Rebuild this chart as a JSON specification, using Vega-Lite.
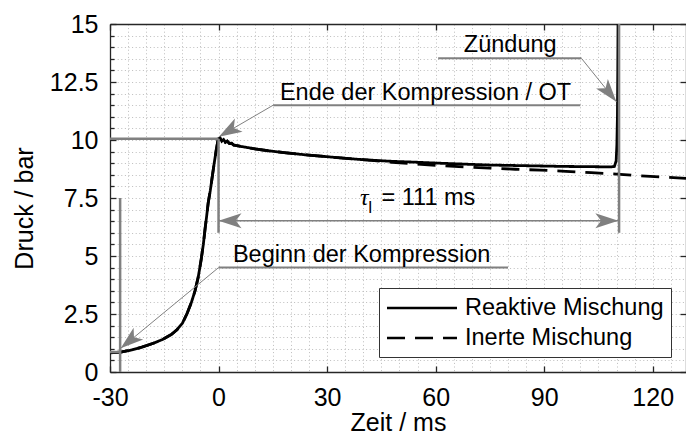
{
  "$schema": "https://vega.github.io/schema/vega-lite/v6.json",
  "width": 576,
  "height": 348,
  "autosize": {"type": "none"},
  "padding": {"left": 110, "top": 24, "right": 0, "bottom": 65},
  "background": "white",
  "config": {
    "font": "Liberation Sans",
    "view": {"stroke": null},
    "axis": {
      "labelFont": "Liberation Sans",
      "labelFontSize": 25,
      "labelColor": "black",
      "titleFont": "Liberation Sans",
      "titleFontSize": 25,
      "titleFontWeight": "normal",
      "titleColor": "black",
      "domainColor": "#262626",
      "domainWidth": 1.3,
      "tickColor": "#262626",
      "tickWidth": 1.3,
      "labelOverlap": false,
      "labelFlush": false
    }
  },
  "datasets": {
    "curves": [
      {"t": -30, "p": 0.83, "series": "Reaktive Mischung"},
      {"t": -27, "p": 0.86, "series": "Reaktive Mischung"},
      {"t": -24, "p": 0.95, "series": "Reaktive Mischung"},
      {"t": -21, "p": 1.08, "series": "Reaktive Mischung"},
      {"t": -18, "p": 1.24, "series": "Reaktive Mischung"},
      {"t": -15.5, "p": 1.4, "series": "Reaktive Mischung"},
      {"t": -13, "p": 1.62, "series": "Reaktive Mischung"},
      {"t": -11.5, "p": 1.82, "series": "Reaktive Mischung"},
      {"t": -10, "p": 2.1, "series": "Reaktive Mischung"},
      {"t": -8.7, "p": 2.52, "series": "Reaktive Mischung"},
      {"t": -7.5, "p": 3.0, "series": "Reaktive Mischung"},
      {"t": -6.5, "p": 3.5, "series": "Reaktive Mischung"},
      {"t": -5.6, "p": 4.1, "series": "Reaktive Mischung"},
      {"t": -4.8, "p": 4.85, "series": "Reaktive Mischung"},
      {"t": -4.2, "p": 5.5, "series": "Reaktive Mischung"},
      {"t": -3.7, "p": 6.2, "series": "Reaktive Mischung"},
      {"t": -3.3, "p": 6.7, "series": "Reaktive Mischung"},
      {"t": -2.85, "p": 7.3, "series": "Reaktive Mischung"},
      {"t": -2.3, "p": 7.8, "series": "Reaktive Mischung"},
      {"t": -1.8, "p": 8.35, "series": "Reaktive Mischung"},
      {"t": -1.2, "p": 9.0, "series": "Reaktive Mischung"},
      {"t": -0.6, "p": 9.6, "series": "Reaktive Mischung"},
      {"t": -0.2, "p": 9.95, "series": "Reaktive Mischung"},
      {"t": 0, "p": 10.05, "series": "Reaktive Mischung"},
      {"t": 0.4, "p": 10.1, "series": "Reaktive Mischung"},
      {"t": 0.9, "p": 9.95, "series": "Reaktive Mischung"},
      {"t": 1.4, "p": 10.02, "series": "Reaktive Mischung"},
      {"t": 1.9, "p": 9.9, "series": "Reaktive Mischung"},
      {"t": 2.4, "p": 9.95, "series": "Reaktive Mischung"},
      {"t": 3.0, "p": 9.85, "series": "Reaktive Mischung"},
      {"t": 3.6, "p": 9.86, "series": "Reaktive Mischung"},
      {"t": 4.2, "p": 9.78, "series": "Reaktive Mischung"},
      {"t": 5, "p": 9.76, "series": "Reaktive Mischung"},
      {"t": 7, "p": 9.7, "series": "Reaktive Mischung"},
      {"t": 10, "p": 9.62, "series": "Reaktive Mischung"},
      {"t": 14, "p": 9.53, "series": "Reaktive Mischung"},
      {"t": 18, "p": 9.46, "series": "Reaktive Mischung"},
      {"t": 24, "p": 9.36, "series": "Reaktive Mischung"},
      {"t": 30, "p": 9.28, "series": "Reaktive Mischung"},
      {"t": 36, "p": 9.2, "series": "Reaktive Mischung"},
      {"t": 40, "p": 9.15, "series": "Reaktive Mischung"},
      {"t": 48, "p": 9.08, "series": "Reaktive Mischung"},
      {"t": 55, "p": 9.04, "series": "Reaktive Mischung"},
      {"t": 61, "p": 9.0, "series": "Reaktive Mischung"},
      {"t": 68, "p": 8.96, "series": "Reaktive Mischung"},
      {"t": 75, "p": 8.92, "series": "Reaktive Mischung"},
      {"t": 82, "p": 8.9, "series": "Reaktive Mischung"},
      {"t": 89, "p": 8.88, "series": "Reaktive Mischung"},
      {"t": 96, "p": 8.86, "series": "Reaktive Mischung"},
      {"t": 103, "p": 8.85, "series": "Reaktive Mischung"},
      {"t": 108.3, "p": 8.84, "series": "Reaktive Mischung"},
      {"t": 109.4, "p": 8.86, "series": "Reaktive Mischung"},
      {"t": 109.9, "p": 9.1, "series": "Reaktive Mischung"},
      {"t": 110.1, "p": 9.8, "series": "Reaktive Mischung"},
      {"t": 110.25, "p": 11.0, "series": "Reaktive Mischung"},
      {"t": 110.35, "p": 13.0, "series": "Reaktive Mischung"},
      {"t": 110.45, "p": 16.0, "series": "Reaktive Mischung"},
      {"t": -30, "p": 0.83, "series": "Inerte Mischung"},
      {"t": -27, "p": 0.86, "series": "Inerte Mischung"},
      {"t": -24, "p": 0.95, "series": "Inerte Mischung"},
      {"t": -21, "p": 1.08, "series": "Inerte Mischung"},
      {"t": -18, "p": 1.24, "series": "Inerte Mischung"},
      {"t": -15.5, "p": 1.4, "series": "Inerte Mischung"},
      {"t": -13, "p": 1.62, "series": "Inerte Mischung"},
      {"t": -11.5, "p": 1.82, "series": "Inerte Mischung"},
      {"t": -10, "p": 2.1, "series": "Inerte Mischung"},
      {"t": -8.7, "p": 2.52, "series": "Inerte Mischung"},
      {"t": -7.5, "p": 3.0, "series": "Inerte Mischung"},
      {"t": -6.5, "p": 3.5, "series": "Inerte Mischung"},
      {"t": -5.6, "p": 4.1, "series": "Inerte Mischung"},
      {"t": -4.8, "p": 4.85, "series": "Inerte Mischung"},
      {"t": -4.2, "p": 5.5, "series": "Inerte Mischung"},
      {"t": -3.7, "p": 6.2, "series": "Inerte Mischung"},
      {"t": -3.3, "p": 6.7, "series": "Inerte Mischung"},
      {"t": -2.85, "p": 7.3, "series": "Inerte Mischung"},
      {"t": -2.3, "p": 7.8, "series": "Inerte Mischung"},
      {"t": -1.8, "p": 8.35, "series": "Inerte Mischung"},
      {"t": -1.2, "p": 9.0, "series": "Inerte Mischung"},
      {"t": -0.6, "p": 9.6, "series": "Inerte Mischung"},
      {"t": -0.2, "p": 9.95, "series": "Inerte Mischung"},
      {"t": 0, "p": 10.05, "series": "Inerte Mischung"},
      {"t": 0.4, "p": 10.1, "series": "Inerte Mischung"},
      {"t": 0.9, "p": 9.95, "series": "Inerte Mischung"},
      {"t": 1.4, "p": 10.02, "series": "Inerte Mischung"},
      {"t": 1.9, "p": 9.9, "series": "Inerte Mischung"},
      {"t": 2.4, "p": 9.95, "series": "Inerte Mischung"},
      {"t": 3.0, "p": 9.85, "series": "Inerte Mischung"},
      {"t": 3.6, "p": 9.86, "series": "Inerte Mischung"},
      {"t": 4.2, "p": 9.78, "series": "Inerte Mischung"},
      {"t": 5, "p": 9.76, "series": "Inerte Mischung"},
      {"t": 7, "p": 9.7, "series": "Inerte Mischung"},
      {"t": 10, "p": 9.62, "series": "Inerte Mischung"},
      {"t": 14, "p": 9.53, "series": "Inerte Mischung"},
      {"t": 18, "p": 9.46, "series": "Inerte Mischung"},
      {"t": 24, "p": 9.36, "series": "Inerte Mischung"},
      {"t": 30, "p": 9.28, "series": "Inerte Mischung"},
      {"t": 36, "p": 9.2, "series": "Inerte Mischung"},
      {"t": 40, "p": 9.15, "series": "Inerte Mischung"},
      {"t": 48, "p": 9.04, "series": "Inerte Mischung"},
      {"t": 55, "p": 8.96, "series": "Inerte Mischung"},
      {"t": 61, "p": 8.9, "series": "Inerte Mischung"},
      {"t": 68, "p": 8.84, "series": "Inerte Mischung"},
      {"t": 75, "p": 8.79, "series": "Inerte Mischung"},
      {"t": 82, "p": 8.74, "series": "Inerte Mischung"},
      {"t": 89, "p": 8.7, "series": "Inerte Mischung"},
      {"t": 96, "p": 8.65, "series": "Inerte Mischung"},
      {"t": 103, "p": 8.59, "series": "Inerte Mischung"},
      {"t": 110, "p": 8.53, "series": "Inerte Mischung"},
      {"t": 116, "p": 8.46, "series": "Inerte Mischung"},
      {"t": 122, "p": 8.41, "series": "Inerte Mischung"},
      {"t": 129.2, "p": 8.35, "series": "Inerte Mischung"}
    ],
    "rules": [
      {"t": -30, "p": 10.05, "t2": 0, "p2": 10.05, "kind": "marker"},
      {"t": 0, "p": 10.05, "t2": 0, "p2": 6.0, "kind": "marker"},
      {"t": -27.2, "p": 0, "t2": -27.2, "p2": 7.5, "kind": "marker"},
      {"t": -30, "p": 0.86, "t2": -27.2, "p2": 0.86, "kind": "marker"},
      {"t": 110.7, "p": 15, "t2": 110.7, "p2": 6.0, "kind": "marker"},
      {"t": 15.1, "p": 11.5, "t2": 100, "p2": 11.5, "kind": "underline"},
      {"t": 60.7, "p": 13.52, "t2": 100.3, "p2": 13.52, "kind": "underline"},
      {"t": 0, "p": 4.5, "t2": 80, "p2": 4.5, "kind": "underline"},
      {"t": 0, "p": 6.52, "t2": 110.5, "p2": 6.52, "kind": "span"},
      {"t": 15.1, "p": 11.5, "t2": 0.1, "p2": 10.14, "kind": "leader"},
      {"t": 100.3, "p": 13.52, "t2": 109.96, "p2": 11.65, "kind": "leader"},
      {"t": 0, "p": 4.5, "t2": -27.05, "p2": 1.02, "kind": "leader"}
    ],
    "heads": [
      {"t": 0.1, "p": 10.14, "name": "ende"},
      {"t": 109.96, "p": 11.65, "name": "zuendung"},
      {"t": -27.05, "p": 1.02, "name": "beginn"},
      {"t": 0, "p": 6.52, "name": "spanleft"},
      {"t": 110.5, "p": 6.52, "name": "spanright"}
    ],
    "labels": [
      {"t": 16.96, "p": 11.72, "text": "Ende der Kompression / OT", "kind": "main"},
      {"t": 67.8, "p": 13.78, "text": "Zündung", "kind": "main"},
      {"t": 3.98, "p": 4.75, "text": "Beginn der Kompression", "kind": "main"},
      {"t": 45.05, "p": 7.2, "text": "= 111 ms", "kind": "main"},
      {"t": 39.1, "p": 7.2, "text": "τ", "kind": "tau"},
      {"t": 41.3, "p": 6.85, "text": "I", "kind": "sub"}
    ]
  },
  "layer": [
    {
      "data": {"name": "curves"},
      "mark": {"type": "line", "clip": true, "color": "black", "strokeWidth": 2.8},
      "encoding": {
        "x": {
          "field": "t", "type": "quantitative",
          "scale": {"domain": [-30, 129.2], "nice": false, "zero": false},
          "axis": {
            "orient": "bottom",
            "values": [-30, 0, 30, 60, 90, 120],
            "labelExpr": "'' + datum.value",
            "tickSize": -6,
            "labelPadding": 19,
            "grid": false,
            "title": "Zeit / ms",
            "titlePadding": 0
          }
        },
        "y": {
          "field": "p", "type": "quantitative",
          "scale": {"domain": [0, 15], "nice": false, "zero": false},
          "axis": {
            "orient": "left",
            "values": [0, 2.5, 5, 7.5, 10, 12.5, 15],
            "labelExpr": "'' + datum.value",
            "tickSize": -6,
            "labelPadding": 18,
            "grid": false,
            "title": "Druck / bar",
            "titlePadding": 12,
            "titleY": 184
          }
        },
        "strokeDash": {
          "field": "series", "type": "nominal",
          "scale": {"domain": ["Reaktive Mischung", "Inerte Mischung"], "range": [[1, 0], [18, 10]]},
          "legend": {
            "title": null,
            "orient": "none",
            "legendX": 269,
            "legendY": 264,
            "symbolType": "M-3,0L3,0",
            "symbolSize": 544,
            "symbolOffset": 23,
            "symbolStrokeWidth": 2.5,
            "symbolStrokeColor": "black",
            "labelFont": "Liberation Sans",
            "labelFontSize": 23.5,
            "labelColor": "black",
            "labelOffset": 30,
            "labelLimit": 400,
            "padding": 7,
            "rowPadding": 5,
            "strokeColor": "#333333",
            "fillColor": "white"
          }
        }
      }
    },
    {
      "data": {"name": "rules"},
      "transform": [{"filter": "datum.kind === 'marker'"}],
      "mark": {"type": "rule", "color": "#808080", "strokeWidth": 2.5},
      "encoding": {
        "x": {
          "field": "t", "type": "quantitative",
          "axis": {
            "orient": "bottom",
            "values": [-25, -20, -15, -10, -5, 0, 5, 10, 15, 20, 25, 30, 35, 40, 45, 50, 55, 60, 65, 70, 75, 80, 85, 90, 95, 100, 105, 110, 115, 120, 125],
            "grid": true, "labels": false, "ticks": false, "domain": false, "title": null,
            "gridColor": "#bdbdbd", "gridDash": [1, 2.6], "gridWidth": 1
          }
        },
        "x2": {"field": "t2"},
        "y": {
          "field": "p", "type": "quantitative",
          "axis": {
            "orient": "left",
            "values": [0.5, 1, 1.5, 2, 2.5, 3, 3.5, 4, 4.5, 5, 5.5, 6, 6.5, 7, 7.5, 8, 8.5, 9, 9.5, 10, 10.5, 11, 11.5, 12, 12.5, 13, 13.5, 14, 14.5],
            "grid": true, "labels": false, "ticks": false, "domain": false, "title": null,
            "gridColor": "#bdbdbd", "gridDash": [1, 2.6], "gridWidth": 1
          }
        },
        "y2": {"field": "p2"}
      }
    },
    {
      "data": {"name": "rules"},
      "transform": [{"filter": "datum.kind === 'underline'"}],
      "mark": {"type": "rule", "color": "#808080", "strokeWidth": 2},
      "encoding": {
        "x": {"field": "t", "type": "quantitative", "axis": null},
        "x2": {"field": "t2"},
        "y": {
          "field": "p", "type": "quantitative",
          "axis": {
            "orient": "left",
            "values": [0.5, 1, 1.5, 2, 3, 3.5, 4, 4.5, 5.5, 6, 6.5, 7, 8, 8.5, 9, 9.5, 10.5, 11, 11.5, 12, 13, 13.5, 14, 14.5],
            "tickSize": -4, "labels": false, "domain": false, "grid": false, "title": null
          }
        },
        "y2": {"field": "p2"}
      }
    },
    {
      "data": {"name": "rules"},
      "transform": [{"filter": "datum.kind === 'span'"}],
      "mark": {"type": "rule", "color": "#808080", "strokeWidth": 1.6},
      "encoding": {
        "x": {
          "field": "t", "type": "quantitative",
          "axis": {
            "orient": "top",
            "values": [-30, 0, 30, 60, 90, 120],
            "tickSize": -6, "labels": false, "domain": true, "grid": false, "title": null
          }
        },
        "x2": {"field": "t2"},
        "y": {
          "field": "p", "type": "quantitative",
          "axis": {
            "orient": "right",
            "values": [0, 2.5, 5, 7.5, 10, 12.5, 15],
            "tickSize": -6, "labels": false, "domain": true, "grid": false, "title": null
          }
        },
        "y2": {"field": "p2"}
      }
    },
    {
      "data": {"name": "rules"},
      "transform": [{"filter": "datum.kind === 'leader'"}],
      "mark": {"type": "rule", "color": "#808080", "strokeWidth": 1},
      "encoding": {
        "x": {"field": "t", "type": "quantitative", "axis": null},
        "x2": {"field": "t2"},
        "y": {"field": "p", "type": "quantitative", "axis": null},
        "y2": {"field": "p2"}
      }
    },
    {
      "data": {"name": "heads"},
      "transform": [{"filter": "datum.name === 'ende'"}],
      "mark": {"type": "point", "shape": "M0,0L-1,-0.33L-0.75,0L-1,0.33Z", "size": 2116, "filled": true, "color": "#808080", "opacity": 1, "strokeWidth": 0, "angle": 149.6},
      "encoding": {
        "x": {"field": "t", "type": "quantitative", "axis": null},
        "y": {"field": "p", "type": "quantitative", "axis": null}
      }
    },
    {
      "data": {"name": "heads"},
      "transform": [{"filter": "datum.name === 'zuendung'"}],
      "mark": {"type": "point", "shape": "M0,0L-1,-0.33L-0.75,0L-1,0.33Z", "size": 2116, "filled": true, "color": "#808080", "opacity": 1, "strokeWidth": 0, "angle": 51.1},
      "encoding": {
        "x": {"field": "t", "type": "quantitative", "axis": null},
        "y": {"field": "p", "type": "quantitative", "axis": null}
      }
    },
    {
      "data": {"name": "heads"},
      "transform": [{"filter": "datum.name === 'beginn'"}],
      "mark": {"type": "point", "shape": "M0,0L-1,-0.33L-0.75,0L-1,0.33Z", "size": 2116, "filled": true, "color": "#808080", "opacity": 1, "strokeWidth": 0, "angle": 140.5},
      "encoding": {
        "x": {"field": "t", "type": "quantitative", "axis": null},
        "y": {"field": "p", "type": "quantitative", "axis": null}
      }
    },
    {
      "data": {"name": "heads"},
      "transform": [{"filter": "datum.name === 'spanleft'"}],
      "mark": {"type": "point", "shape": "M0,0L-1,-0.33L-0.75,0L-1,0.33Z", "size": 2116, "filled": true, "color": "#808080", "opacity": 1, "strokeWidth": 0, "angle": 180},
      "encoding": {
        "x": {"field": "t", "type": "quantitative", "axis": null},
        "y": {"field": "p", "type": "quantitative", "axis": null}
      }
    },
    {
      "data": {"name": "heads"},
      "transform": [{"filter": "datum.name === 'spanright'"}],
      "mark": {"type": "point", "shape": "M0,0L-1,-0.33L-0.75,0L-1,0.33Z", "size": 2116, "filled": true, "color": "#808080", "opacity": 1, "strokeWidth": 0, "angle": 0},
      "encoding": {
        "x": {"field": "t", "type": "quantitative", "axis": null},
        "y": {"field": "p", "type": "quantitative", "axis": null}
      }
    },
    {
      "data": {"name": "labels"},
      "transform": [{"filter": "datum.kind === 'main'"}],
      "mark": {"type": "text", "align": "left", "baseline": "alphabetic", "font": "Liberation Sans", "fontSize": 23.5, "color": "black"},
      "encoding": {
        "x": {"field": "t", "type": "quantitative", "axis": null},
        "y": {"field": "p", "type": "quantitative", "axis": null},
        "text": {"field": "text"}
      }
    },
    {
      "data": {"name": "labels"},
      "transform": [{"filter": "datum.kind === 'tau'"}],
      "mark": {"type": "text", "align": "left", "baseline": "alphabetic", "font": "Liberation Serif", "fontStyle": "italic", "fontSize": 24, "color": "black"},
      "encoding": {
        "x": {"field": "t", "type": "quantitative", "axis": null},
        "y": {"field": "p", "type": "quantitative", "axis": null},
        "text": {"field": "text"}
      }
    },
    {
      "data": {"name": "labels"},
      "transform": [{"filter": "datum.kind === 'sub'"}],
      "mark": {"type": "text", "align": "left", "baseline": "alphabetic", "font": "Liberation Sans", "fontSize": 16, "color": "black"},
      "encoding": {
        "x": {"field": "t", "type": "quantitative", "axis": null},
        "y": {"field": "p", "type": "quantitative", "axis": null},
        "text": {"field": "text"}
      }
    }
  ],
  "resolve": {"axis": {"x": "independent", "y": "independent"}}
}
